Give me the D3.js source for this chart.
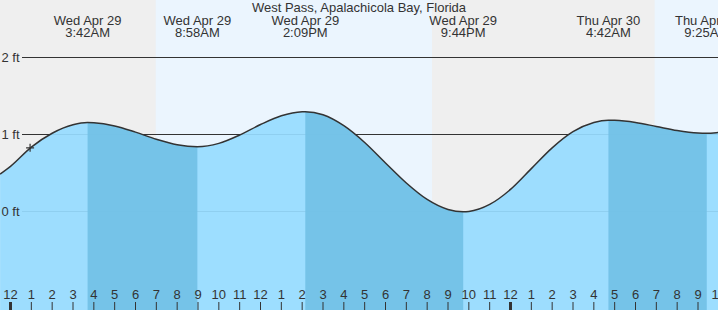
<!DOCTYPE html>
<html>
<head>
<meta charset="utf-8">
<script src="https://cdn.jsdelivr.net/npm/d3@7"></script>
<style>
  body { margin: 0; background: #fff; }
  svg text { font-family: "Liberation Sans", Arial, sans-serif; font-size: 13px; fill: #333; }
</style>
</head>
<body>
<script>
"use strict";

// hours counted from midnight, Wed Apr 29
const title = "West Pass, Apalachicola Bay, Florida";

const tideHours   = [-0.5, 0, 1, 2, 3, 3.7, 4, 5, 6, 7, 8, 8.97, 10, 11, 12, 13, 14, 14.15, 15, 16, 17, 18, 19, 20, 21, 21.73, 22, 23, 24, 25, 26, 27, 28, 28.7, 29, 30, 31, 32, 33, 33.42, 34, 35];
const tideHeights = [0.48, 0.58, 0.83, 1.01, 1.12, 1.15, 1.147, 1.105, 1.024, 0.932, 0.861, 0.835, 0.878, 0.987, 1.123, 1.237, 1.289, 1.29, 1.25, 1.108, 0.89, 0.624, 0.364, 0.15, 0.02, -0.01, -0.006, 0.085, 0.28, 0.55, 0.82, 1.03, 1.15, 1.18, 1.178, 1.15, 1.098, 1.045, 1.013, 1.01, 1.02, 1.05];

// high / low tide extremes and their labels
const extremeHours = [3.7, 8.97, 14.15, 21.73, 28.7, 33.42];
const extremeDays  = ["Wed Apr 29", "Wed Apr 29", "Wed Apr 29", "Wed Apr 29", "Thu Apr 30", "Thu Apr 30"];
const extremeTimes = ["3:42AM", "8:58AM", "2:09PM", "9:44PM", "4:42AM", "9:25AM"];

// daylight spans (sunrise, sunset)
const dayStarts = [6.97, 30.92];
const dayEnds   = [20.23, 40];

const yTicks = [0, 1, 2];
const hourTicks = d3.range(0, 35);

// current time marker
const nowHour = 0.94, nowHeight = 0.82;

var width = 718, height = 310;

var x = d3.scaleLinear().domain([0, 24]).range([10.5, 510.5]);
var y = d3.scaleLinear().domain([0, 1]).range([211, 134]);

var svg = d3.select("body").append("svg")
    .attr("width", width)
    .attr("height", height);

// night background
svg.append("rect")
    .attr("width", width).attr("height", height)
    .attr("fill", "#efefef");

// daylight
svg.selectAll("rect.day")
    .data(dayStarts)
  .enter().append("rect")
    .attr("class", "day")
    .attr("x", function(d) { return x(d); })
    .attr("width", function(d, i) { return x(dayEnds[i]) - x(d); })
    .attr("y", 0).attr("height", height)
    .attr("fill", "#ebf5fe");

// grid lines (drawn under the water so they fade through it)
svg.selectAll("line.grid")
    .data(yTicks)
  .enter().append("line")
    .attr("class", "grid")
    .attr("x1", 22).attr("x2", width)
    .attr("y1", function(d) { return y(d) + 0.5; })
    .attr("y2", function(d) { return y(d) + 0.5; })
    .attr("stroke", "#333");

var tide = tideHours.map(function(h, i) { return [h, tideHeights[i]]; });

var area = d3.area()
    .curve(d3.curveMonotoneX)
    .x(function(d) { return x(d[0]); })
    .y0(height)
    .y1(function(d) { return y(d[1]); });

var line = d3.line()
    .curve(d3.curveMonotoneX)
    .x(function(d) { return x(d[0]); })
    .y(function(d) { return y(d[1]); });

svg.append("clipPath").attr("id", "water")
  .append("path").attr("d", area(tide));

var water = svg.append("g").attr("clip-path", "url(#water)");

water.append("rect")
    .attr("width", width).attr("height", height)
    .attr("fill", "#97dcff")
    .attr("opacity", 0.93);

// falling tide bands: from each high to the next low
var falls = [[extremeHours[0], extremeHours[1]], [extremeHours[2], extremeHours[3]], [extremeHours[4], extremeHours[5]]];
water.selectAll("rect.fall")
    .data(falls)
  .enter().append("rect")
    .attr("class", "fall")
    .attr("x", function(d) { return x(d[0]); })
    .attr("width", function(d) { return x(d[1]) - x(d[0]); })
    .attr("y", 0).attr("height", height)
    .attr("fill", "#72c1e6")
    .attr("opacity", 0.93);

svg.append("path")
    .attr("d", line(tide))
    .attr("fill", "none")
    .attr("stroke", "#333")
    .attr("stroke-width", 1.5);

svg.selectAll("text.ylab")
    .data(yTicks)
  .enter().append("text")
    .attr("class", "ylab")
    .attr("x", 19.5)
    .attr("y", function(d) { return y(d) + 4.5; })
    .attr("text-anchor", "end")
    .text(function(d) { return d + " ft"; });

// hour ticks along the bottom
var fmtHour = function(h) { var v = h % 12; return v === 0 ? "12" : String(v); };

svg.selectAll("line.tick")
    .data(hourTicks)
  .enter().append("line")
    .attr("class", "tick")
    .attr("x1", function(d) { return x(d); })
    .attr("x2", function(d) { return x(d); })
    .attr("y1", 302).attr("y2", height)
    .attr("stroke", "#333")
    .attr("stroke-width", function(d) { return d % 24 === 0 ? 3 : 1; });

svg.selectAll("text.hour")
    .data(hourTicks)
  .enter().append("text")
    .attr("class", "hour")
    .attr("x", function(d) { return x(d); })
    .attr("y", 299)
    .attr("text-anchor", "middle")
    .text(fmtHour);

// extreme labels
var lab = svg.selectAll("g.ext")
    .data(extremeHours)
  .enter().append("g")
    .attr("class", "ext")
    .attr("transform", function(d) { return "translate(" + x(d) + ",0)"; });
lab.append("text")
    .attr("y", 24.5).attr("text-anchor", "middle")
    .text(function(d, i) { return extremeDays[i]; });
lab.append("text")
    .attr("y", 36.5).attr("text-anchor", "middle")
    .text(function(d, i) { return extremeTimes[i]; });

svg.append("text")
    .attr("x", width / 2).attr("y", 11.5)
    .attr("text-anchor", "middle")
    .text(title);

// "now" cross
var cx = x(nowHour), cy = y(nowHeight);
svg.append("path")
    .attr("d", "M" + (cx - 4) + "," + cy + "H" + (cx + 4) + "M" + cx + "," + (cy - 4) + "V" + (cy + 4))
    .attr("stroke", "#333")
    .attr("stroke-width", 1.2);
</script>
</body>
</html>
